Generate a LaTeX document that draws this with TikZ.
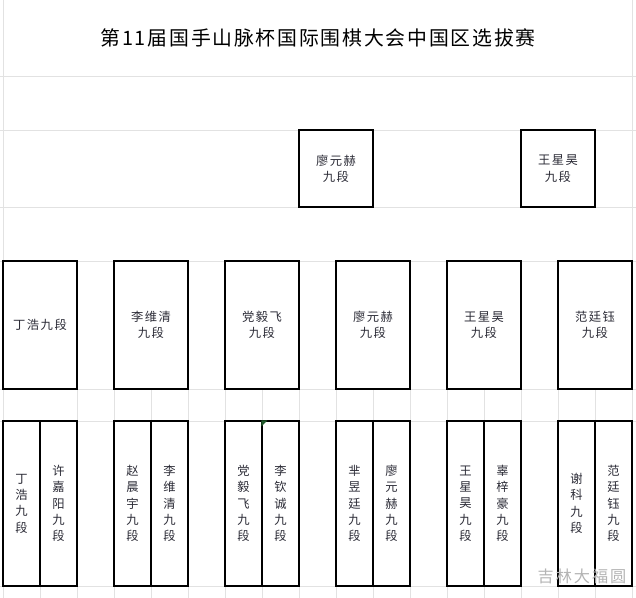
\documentclass[tikz,border=0pt]{standalone}
\usepackage{fontspec}
\newfontfamily\cjk[LetterSpace=12]{Noto Sans CJK SC}
\newfontfamily\titlecjk[LetterSpace=9]{Noto Sans CJK SC}
\usetikzlibrary{positioning}
\definecolor{sheetGrid}{HTML}{E2E2E2}
\definecolor{sheetInk}{HTML}{2B2B36}
\definecolor{markGreen}{HTML}{1F5A2A}
\definecolor{stampGray}{HTML}{B4B4B4}
\tikzset{
  seat/.style={draw=black,line width=.6pt,inner sep=0pt,align=center,
    font=\cjk\fontsize{7}{9.3}\selectfont,text=sheetInk},
  final/.style={seat,minimum width=1.48cm,minimum height=1.54cm},
  semi/.style={seat,minimum width=1.48cm,minimum height=2.56cm},
  entry/.style={seat,minimum width=.74cm,minimum height=3.30cm},
  sheetline/.style={sheetGrid,line width=.5pt}
}

\begin{document}
\begin{tikzpicture}[x=.02cm,y=-.02cm]
  \useasboundingbox (0,0) rectangle (636,598);
  % sheet grid
  \foreach \y in {76,130,207,261,389,421,586}{\draw[sheetline] (0,\y) -- (636,\y);}
  \draw[sheetline] (3,0) -- (3,598);
  \draw[sheetline] (632,0) -- (632,598);
  \foreach \x in {77,114,...,595}{\draw[sheetline] (\x,389) -- (\x,421);}
  \foreach \x in {40,77,...,595}{\draw[sheetline] (\x,586) -- (\x,598);}

  \node[font=\titlecjk\fontsize{11.3}{13}\selectfont,text=black] (title) at (318,38)
       {第11届国手山脉杯国际围棋大会中国区选拔赛};

  % finals
  \node[final] (fin1) at (336,168.5) {廖元赫\\九段};
  \node[final] (fin2) at (558,168.5) {王星昊\\九段};

  % semifinal row
  \node[semi] (semi1) at (40,325)  {丁浩九段};
  \node[semi] (semi2) at (151,325) {李维清\\九段};
  \node[semi] (semi3) at (262,325) {党毅飞\\九段};
  \node[semi] (semi4) at (373,325) {廖元赫\\九段};
  \node[semi] (semi5) at (484,325) {王星昊\\九段};
  \node[semi] (semi6) at (595,325) {范廷钰\\九段};

  % entries
  \foreach \n/\x/\t in {e1/21.5/{丁\\浩\\九\\段},e2/58.5/{许\\嘉\\阳\\九\\段},
      e3/132.5/{赵\\晨\\宇\\九\\段},e4/169.5/{李\\维\\清\\九\\段},
      e5/243.5/{党\\毅\\飞\\九\\段},e6/280.5/{李\\钦\\诚\\九\\段},
      e7/354.5/{芈\\昱\\廷\\九\\段},e8/391.5/{廖\\元\\赫\\九\\段},
      e9/465.5/{王\\星\\昊\\九\\段},e10/502.5/{辜\\梓\\豪\\九\\段},
      e11/576.5/{谢\\科\\九\\段},e12/613.5/{范\\廷\\钰\\九\\段}}{
    \node[entry] (\n) at (\x,503.5) {\t};
  }
  \fill[markGreen] (e6.north west) -- ++(6,0) -- ++(-6,6) -- cycle;

  \node[font=\cjk\fontsize{9.2}{11}\selectfont,text=stampGray] (stamp) at (582,576) {吉林大福圆};
\end{tikzpicture}
\end{document}
